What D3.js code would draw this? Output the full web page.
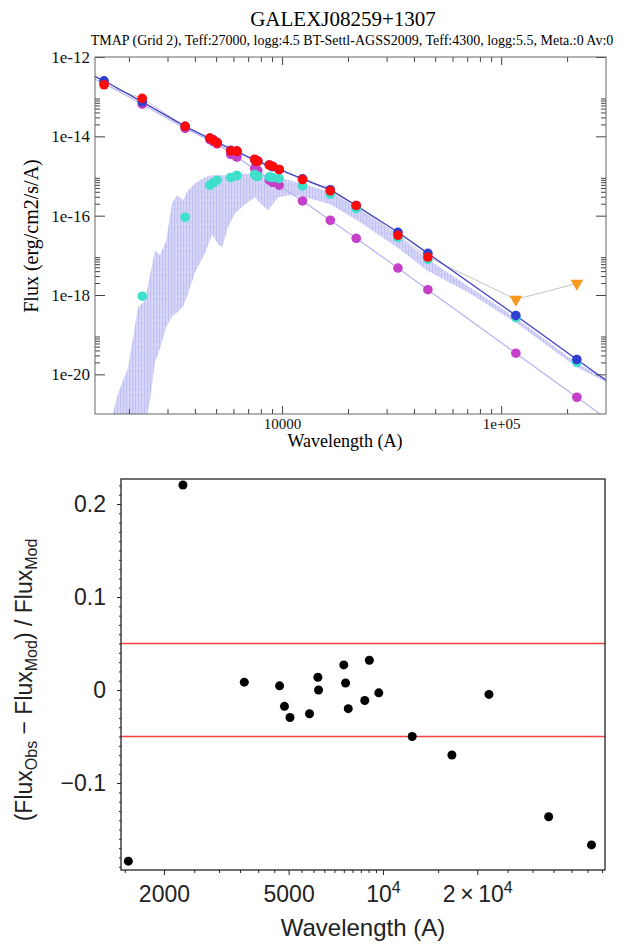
<!DOCTYPE html>
<html>
<head>
<meta charset="utf-8">
<script src="https://cdnjs.cloudflare.com/ajax/libs/d3/7.8.5/d3.min.js"></script>
<style>
body { margin: 0; background: #fff; }
svg { display: block; }
</style>
</head>
<body>
<div id="chart"></div>
<script>
// photometric bands (A), same order in both panels
var bandWave = [1540, 2300, 3610, 4680, 4850, 5050, 5830, 6200, 6230, 7500, 7600, 7750, 8750, 9050, 9700, 12400, 16600, 21800, 33800, 46300];
// WISE W3/W4 (upper limits only)
var limitWave = [116700, 221600];
var modelWave = bandWave.concat(limitWave);

// log10 flux (erg/cm2/s/A)
var obsLogFlux = [-12.70, -13.043, -13.75, -14.045, -14.096, -14.164, -14.366, -14.374, -14.38, -14.576, -14.626, -14.63, -14.727, -14.753, -14.836, -15.088, -15.376, -15.745, -16.495, -17.043];
var limitLogFlux = [-18.11, -17.71];
var totalLogFlux = [-12.60, -13.13, -13.75, -14.05, -14.09, -14.15, -14.355, -14.38, -14.38, -14.59, -14.63, -14.62, -14.722, -14.767, -14.835, -15.07, -15.345, -15.743, -16.42, -16.95, -18.515, -19.626];
var hotLogFlux = [-12.66, -13.19, -13.80, -14.08, -14.13, -14.19, -14.457, -14.518, -14.52, -14.81, -14.84, -14.86, -15.106, -15.16, -15.232, -15.629, -16.116, -16.57, -17.32, -17.866, -19.467, -20.578];
var coolLogFlux = [null, -18.03, -16.04, -15.23, -15.174, -15.106, -15.038, -14.987, -14.99, -14.962, -15.005, -15.01, -15.023, -15.038, -15.063, -15.25, -15.46, -15.82, -16.55, -17.1, -18.573, -19.70];

// model spectra
var totalLineWave = [1387, 1540, 2300, 3610, 5050, 6200, 7600, 9700, 12400, 16600, 21800, 33800, 46300, 116700, 221600, 304800];
var totalLineLogFlux = [-12.48, -12.60, -13.13, -13.75, -14.15, -14.38, -14.62, -14.835, -15.07, -15.345, -15.743, -16.42, -16.95, -18.515, -19.626, -20.17];
var hotLineWave = [1387, 1540, 2300, 3610, 5050, 6200, 9700, 12400, 16600, 21800, 33800, 46300, 116700, 221600, 304800];
var hotLineLogFlux = [-12.55, -12.66, -13.19, -13.80, -14.19, -14.518, -15.232, -15.629, -16.116, -16.57, -17.32, -17.866, -19.467, -20.578, -21.13];
var coolSpecWave = [1656, 1783, 1982, 2089, 2200, 2366, 2496, 2630, 2773, 2952, 3145, 3316, 3533, 3723, 4009, 4450, 4790, 5101, 5321, 5667, 6100, 6776, 7530, 8103, 8630, 9588, 10877, 12340, 16560, 21990, 33480, 45920, 72140, 118300, 222300, 304800];
var coolSpecTop = [-21.17, -20.485, -19.828, -19.071, -18.313, -18.136, -17.505, -16.874, -17.0, -16.646, -15.687, -15.485, -15.611, -15.359, -15.182, -15.03, -14.98, -14.98, -14.98, -14.98, -14.955, -14.942, -14.955, -14.98, -15.005, -15.043, -15.106, -15.194, -15.402, -15.78, -16.495, -17.083, -17.808, -18.598, -19.727, -20.114];
var coolSpecBottom = [-22, -22, -22, -22, -22, -21.3, -20.662, -19.702, -19.348, -18.818, -18.54, -18.439, -18.288, -17.96, -17.429, -16.949, -16.47, -16.722, -16.798, -16.293, -15.939, -15.712, -15.535, -15.737, -15.864, -15.535, -15.485, -15.51, -15.712, -16.116, -16.798, -17.38, -17.96, -18.717, -19.828, -20.207];

// (Flux_obs - Flux_mod) / Flux_mod for each band
var residual = [-0.184, 0.2205, 0.0085, 0.0045, -0.0175, -0.0295, -0.0255, 0.0137, 0.0, 0.027, 0.0075, -0.020, -0.0112, 0.032, -0.003, -0.050, -0.0698, -0.0047, -0.1363, -0.1665];
var residualLimits = [0.05, -0.05];

// tick values
var sedYMajor = [1e-12, 1e-14, 1e-16, 1e-18, 1e-20];
var sedYMinor = [];
[-14, -16, -18, -20].forEach(function (k) {
    [2, 3, 4, 5, 6, 7, 8, 9].forEach(function (m) { sedYMinor.push(m * Math.pow(10, k)); });
});
var sedXMajor = [10000, 100000];
var sedXMinor = [2000, 3000, 4000, 5000, 6000, 7000, 8000, 9000, 20000, 30000, 40000, 50000, 60000, 70000, 80000, 90000, 200000];
var resXMajor = [2000, 5000, 10000, 20000];
var resXMinor = [1500, 2500, 3000, 3500, 4000, 4500, 5500, 6000, 6500, 7000, 7500, 8000, 8500, 9000, 9500, 15000, 25000, 30000, 35000, 40000, 45000, 50000];
var resYMajor = [-0.1, 0, 0.1, 0.2];

function pow10(v) { return Math.pow(10, v); }

var svg = d3.select("#chart").append("svg")
    .attr("width", 630)
    .attr("height", 945);

var serif = "Liberation Serif, DejaVu Serif, Times New Roman, Times, serif";
var sans = "Liberation Sans, Arial, sans-serif";

// fine vertical hatching to mimic the dense absorption lines of the cool model
var defs = svg.append("defs");
var pat = defs.append("pattern")
    .attr("id", "specTex")
    .attr("patternUnits", "userSpaceOnUse")
    .attr("width", 3).attr("height", 6);
pat.append("rect").attr("width", 3).attr("height", 6).attr("fill", "#d3d3f8");
pat.append("rect").attr("width", 1).attr("height", 6).attr("fill", "#c0c0f3");
pat.append("rect").attr("x", 2).attr("y", 2).attr("width", 1).attr("height", 1).attr("fill", "#e6e6fc");

// ---------------- SED panel ----------------
var sed = {left: 95, right: 606, top: 57, bottom: 414};
var x = d3.scaleLog().domain([1400, 301000]).range([sed.left, sed.right]);
var y = d3.scaleLog().domain([1e-21, 1e-12]).range([sed.bottom, sed.top]);

defs.append("clipPath").attr("id", "sedclip")
    .append("rect")
    .attr("x", sed.left).attr("y", sed.top)
    .attr("width", sed.right - sed.left).attr("height", sed.bottom - sed.top);

var plot = svg.append("g").attr("clip-path", "url(#sedclip)");

var coolSpec = coolSpecWave.map(function (w, i) { return {w: w, hi: coolSpecTop[i], lo: coolSpecBottom[i]}; });
plot.append("path")
    .datum(coolSpec)
    .attr("d", d3.area()
        .x(function (d) { return x(d.w); })
        .y0(function (d) { return y(pow10(d.lo)); })
        .y1(function (d) { return y(pow10(d.hi)); }))
    .attr("fill", "url(#specTex)")
    .attr("stroke", "none");

var line = d3.line()
    .x(function (d) { return x(d[0]); })
    .y(function (d) { return y(pow10(d[1])); });

plot.append("path")
    .datum(hotLineWave.map(function (w, i) { return [w, hotLineLogFlux[i]]; }))
    .attr("d", line)
    .attr("fill", "none")
    .attr("stroke", "#b4b4f0")
    .attr("stroke-width", 1.2);

var obsLine = bandWave.map(function (w, i) { return [w, obsLogFlux[i]]; })
    .concat(limitWave.map(function (w, i) { return [w, limitLogFlux[i]]; }));
plot.append("path")
    .datum(obsLine)
    .attr("d", line)
    .attr("fill", "none")
    .attr("stroke", "#c4c4c4")
    .attr("stroke-width", 1);

plot.append("path")
    .datum(totalLineWave.map(function (w, i) { return [w, totalLineLogFlux[i]]; }))
    .attr("d", line)
    .attr("fill", "none")
    .attr("stroke", "#3f3fc4")
    .attr("stroke-width", 1.3);

function dots(waves, values, color) {
    var data = waves.map(function (w, i) { return [w, values[i]]; })
        .filter(function (d) { return d[1] !== null; });
    plot.append("g").selectAll("circle").data(data).enter()
        .append("circle")
        .attr("cx", function (d) { return x(d[0]); })
        .attr("cy", function (d) { return y(pow10(d[1])); })
        .attr("r", 4.8)
        .attr("fill", color);
}
dots(modelWave, hotLogFlux, "#c53fc9");
dots(modelWave, coolLogFlux, "#3ee0cc");
dots(modelWave, totalLogFlux, "#2f3fd0");
dots(bandWave, obsLogFlux, "#ff0a0a");

plot.append("g").selectAll("path")
    .data(limitWave.map(function (w, i) { return [w, limitLogFlux[i]]; }))
    .enter().append("path")
    .attr("d", d3.symbol().type(d3.symbolTriangle).size(70))
    .attr("transform", function (d) {
        return "translate(" + x(d[0]) + "," + y(pow10(d[1])) + ") rotate(180)";
    })
    .attr("fill", "#f59a1c");

// SED axes (ticks inward on all four sides)
function noDomain(g) { g.select(".domain").remove(); }
var axisColor = "#444";

svg.append("g")
    .attr("transform", "translate(0," + sed.bottom + ")")
    .attr("color", axisColor)
    .call(d3.axisBottom(x).tickValues(sedXMajor)
        .tickFormat(function (d) { return d === 10000 ? "10000" : "1e+05"; })
        .tickSizeInner(-8).tickSizeOuter(0).tickPadding(4))
    .call(noDomain)
    .call(function (g) {
        g.selectAll("text").attr("font-family", serif).attr("font-size", 15).attr("fill", "#111");
    });
svg.append("g")
    .attr("transform", "translate(0," + sed.bottom + ")")
    .attr("color", axisColor)
    .call(d3.axisBottom(x).tickValues(sedXMinor).tickFormat("").tickSizeInner(-5).tickSizeOuter(0))
    .call(noDomain);
svg.append("g")
    .attr("transform", "translate(0," + sed.top + ")")
    .attr("color", axisColor)
    .call(d3.axisTop(x).tickValues(sedXMajor).tickFormat("").tickSizeInner(-8).tickSizeOuter(0))
    .call(noDomain);
svg.append("g")
    .attr("transform", "translate(0," + sed.top + ")")
    .attr("color", axisColor)
    .call(d3.axisTop(x).tickValues(sedXMinor).tickFormat("").tickSizeInner(-5).tickSizeOuter(0))
    .call(noDomain);

svg.append("g")
    .attr("transform", "translate(" + sed.left + ",0)")
    .attr("color", axisColor)
    .call(d3.axisLeft(y).tickValues(sedYMajor)
        .tickFormat(function (d) { return "1e" + Math.round(Math.log10(d)); })
        .tickSizeInner(-10).tickSizeOuter(0).tickPadding(5))
    .call(noDomain)
    .call(function (g) {
        g.selectAll("text").attr("font-family", serif).attr("font-size", 17).attr("fill", "#111");
    });
svg.append("g")
    .attr("transform", "translate(" + sed.left + ",0)")
    .attr("color", axisColor)
    .call(d3.axisLeft(y).tickValues(sedYMinor).tickFormat("").tickSizeInner(-5).tickSizeOuter(0))
    .call(noDomain);
svg.append("g")
    .attr("transform", "translate(" + sed.right + ",0)")
    .attr("color", axisColor)
    .call(d3.axisRight(y).tickValues(sedYMajor).tickFormat("").tickSizeInner(-10).tickSizeOuter(0))
    .call(noDomain);
svg.append("g")
    .attr("transform", "translate(" + sed.right + ",0)")
    .attr("color", axisColor)
    .call(d3.axisRight(y).tickValues(sedYMinor).tickFormat("").tickSizeInner(-5).tickSizeOuter(0))
    .call(noDomain);

svg.append("rect")
    .attr("x", sed.left).attr("y", sed.top)
    .attr("width", sed.right - sed.left).attr("height", sed.bottom - sed.top)
    .attr("fill", "none").attr("stroke", "#666").attr("stroke-width", 1);

svg.append("text")
    .attr("x", 343).attr("y", 26)
    .attr("text-anchor", "middle")
    .attr("font-family", serif).attr("font-size", 21)
    .text("GALEXJ08259+1307");
svg.append("text")
    .attr("x", 352).attr("y", 45)
    .attr("text-anchor", "middle")
    .attr("font-family", serif).attr("font-size", 14)
    .text("TMAP (Grid 2), Teff:27000, logg:4.5 BT-Settl-AGSS2009, Teff:4300, logg:5.5, Meta.:0 Av:0");
svg.append("text")
    .attr("transform", "translate(38,236) rotate(-90)")
    .attr("text-anchor", "middle")
    .attr("font-family", serif).attr("font-size", 20)
    .text("Flux (erg/cm2/s/A)");
svg.append("text")
    .attr("x", 345).attr("y", 447)
    .attr("text-anchor", "middle")
    .attr("font-family", serif).attr("font-size", 18)
    .text("Wavelength (A)");

// ---------------- residual panel ----------------
var res = {left: 121, right: 605, top: 479, bottom: 870};
var xb = d3.scaleLog().domain([1459, 51130]).range([res.left, res.right]);
var yb = d3.scaleLinear().domain([-0.1935, 0.2269]).range([res.bottom, res.top]);

svg.append("g").selectAll("line")
    .data(residualLimits).enter()
    .append("line")
    .attr("x1", res.left).attr("x2", res.right)
    .attr("y1", function (d) { return yb(d); })
    .attr("y2", function (d) { return yb(d); })
    .attr("stroke", "#ff4040")
    .attr("stroke-width", 1.6);

svg.append("g").selectAll("circle")
    .data(bandWave.map(function (w, i) { return [w, residual[i]]; }))
    .enter().append("circle")
    .attr("cx", function (d) { return xb(d[0]); })
    .attr("cy", function (d) { return yb(d[1]); })
    .attr("r", 4.5)
    .attr("fill", "#000");

svg.append("g")
    .attr("transform", "translate(" + res.left + ",0)")
    .attr("color", "#222")
    .call(d3.axisLeft(yb).tickValues(resYMajor)
        .tickFormat(function (d) { return d === 0 ? "0" : d3.format(".1f")(d); })
        .tickSizeInner(4).tickSizeOuter(0).tickPadding(11))
    .call(noDomain)
    .call(function (g) {
        g.selectAll("text").attr("font-family", sans).attr("font-size", 23).attr("fill", "#222");
    });
svg.append("g")
    .attr("transform", "translate(" + res.left + ",0)")
    .attr("color", "#222")
    .call(d3.axisLeft(yb).tickValues(d3.range(-19, 23).map(function (i) { return i / 100; }))
        .tickFormat("").tickSizeInner(2).tickSizeOuter(0))
    .call(noDomain);

var gxb = svg.append("g")
    .attr("transform", "translate(0," + res.bottom + ")")
    .attr("color", "#222")
    .call(d3.axisBottom(xb).tickValues(resXMajor).tickFormat("").tickSizeInner(5).tickSizeOuter(0))
    .call(noDomain);
svg.append("g")
    .attr("transform", "translate(0," + res.bottom + ")")
    .attr("color", "#222")
    .call(d3.axisBottom(xb).tickValues(resXMinor).tickFormat("").tickSizeInner(3).tickSizeOuter(0))
    .call(noDomain);

// tick labels with superscripts
gxb.selectAll(".tick").each(function (d) {
    var t = d3.select(this).append("text")
        .attr("y", 32)
        .attr("text-anchor", "middle")
        .attr("font-family", sans).attr("font-size", 23)
        .attr("fill", "#222");
    if (d < 10000) {
        t.text(d);
    } else {
        t.append("tspan").text(d === 10000 ? "10" : "2\u2009\u00d7\u200910");
        t.append("tspan").attr("dy", -9).attr("font-size", 16).text("4");
    }
});

svg.append("rect")
    .attr("x", res.left).attr("y", res.top)
    .attr("width", res.right - res.left).attr("height", res.bottom - res.top)
    .attr("fill", "none").attr("stroke", "#222").attr("stroke-width", 1.3);

svg.append("text")
    .attr("x", 363).attr("y", 936)
    .attr("text-anchor", "middle")
    .attr("font-family", sans).attr("font-size", 24)
    .attr("fill", "#222")
    .text("Wavelength (A)");

var ylab = svg.append("text")
    .attr("transform", "translate(32,680) rotate(-90)")
    .attr("text-anchor", "middle")
    .attr("font-family", sans).attr("font-size", 23)
    .attr("fill", "#222");
ylab.append("tspan").text("(Flux");
ylab.append("tspan").attr("dy", 5).attr("font-size", 16).text("Obs");
ylab.append("tspan").attr("dy", -5).text(" \u2212 Flux");
ylab.append("tspan").attr("dy", 5).attr("font-size", 16).text("Mod");
ylab.append("tspan").attr("dy", -5).text(") / Flux");
ylab.append("tspan").attr("dy", 5).attr("font-size", 16).text("Mod");
</script>
</body>
</html>
